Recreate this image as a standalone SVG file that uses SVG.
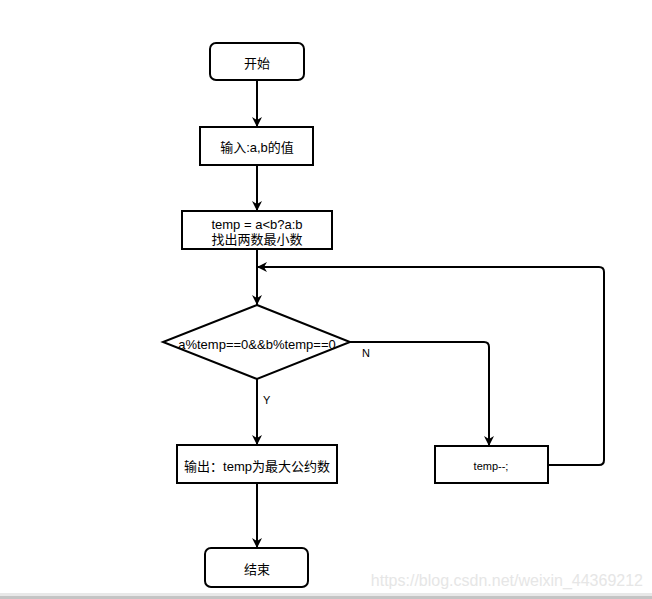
<svg xmlns="http://www.w3.org/2000/svg" width="652" height="599" viewBox="0 0 652 599">
<style>
  .box { fill: #ffffff; stroke: #000000; stroke-width: 2; }
  .t { font-family: "Liberation Sans", "Noto Sans CJK SC", sans-serif; font-size: 13px; fill: #000000; text-anchor: middle; dominant-baseline: central; }
  .s { font-size: 11px; }
  .lbl { font-family: "Liberation Sans", sans-serif; font-size: 11px; fill: #000000; }
  .edge { fill: none; stroke: #000000; stroke-width: 2; stroke-linejoin: round; }
</style>
<defs>
  <marker id="arr" markerUnits="userSpaceOnUse" markerWidth="12" markerHeight="12" refX="10" refY="5" orient="auto">
    <path d="M0,0 L10,5 L0,10 L3,5 Z" fill="#000000"/>
  </marker>
</defs>
<rect width="652" height="599" fill="#ffffff"/>
<g id="connectors">
  <line class="edge" x1="257" y1="80" x2="257" y2="127" marker-end="url(#arr)"/>
  <line class="edge" x1="257" y1="165" x2="257" y2="211" marker-end="url(#arr)"/>
  <line class="edge" x1="257" y1="249" x2="257" y2="305" marker-end="url(#arr)"/>
  <line class="edge" x1="257" y1="379" x2="257" y2="445" marker-end="url(#arr)"/>
  <line class="edge" x1="257" y1="483" x2="257" y2="548" marker-end="url(#arr)"/>
  <path class="edge" d="M350,342 L484,342 Q489,342 489,347 L489,446" marker-end="url(#arr)"/>
  <path class="edge" d="M548,465 L599,465 Q604,465 604,460 L604,272 Q604,267 599,267 L257,267" marker-end="url(#arr)"/>
  <text class="lbl" x="362" y="357">N</text>
  <text class="lbl" x="263" y="404">Y</text>
</g>
<g id="start">
  <rect class="box" x="210" y="43" width="94" height="37" rx="6"/>
  <text class="t" x="257" y="63">开始</text>
</g>
<g id="input">
  <rect class="box" x="200" y="127" width="113" height="38"/>
  <text class="t" x="257" y="147">输入:a,b的值</text>
</g>
<g id="temp">
  <rect class="box" x="182" y="211" width="150" height="38"/>
  <text class="t" x="257" y="224">temp = a&lt;b?a:b</text>
  <text class="t" x="257" y="239">找出两数最小数</text>
</g>
<g id="decision">
  <polygon class="box" points="257,305 350,342 257,379 163,342"/>
  <text class="t" x="257" y="344">a%temp==0&amp;&amp;b%temp==0</text>
</g>
<g id="output">
  <rect class="box" x="177" y="445" width="160" height="38"/>
  <text class="t" x="257" y="466">输出：temp为最大公约数</text>
</g>
<g id="dec">
  <rect class="box" x="435" y="446" width="113" height="37"/>
  <text class="t s" x="491" y="466">temp--;</text>
</g>
<g id="end">
  <rect class="box" x="205" y="548" width="103" height="39" rx="6"/>
  <text class="t" x="257" y="569">结束</text>
</g>
<text x="643" y="586" font-family="Liberation Sans, sans-serif" font-size="16" fill="#e6e6e6" text-anchor="end">https://blog.csdn.net/weixin_44369212</text>
<rect x="0" y="593" width="652" height="3" fill="#e8e8e8"/>
<rect x="0" y="596" width="652" height="3" fill="#c4c4c4"/>
</svg>
